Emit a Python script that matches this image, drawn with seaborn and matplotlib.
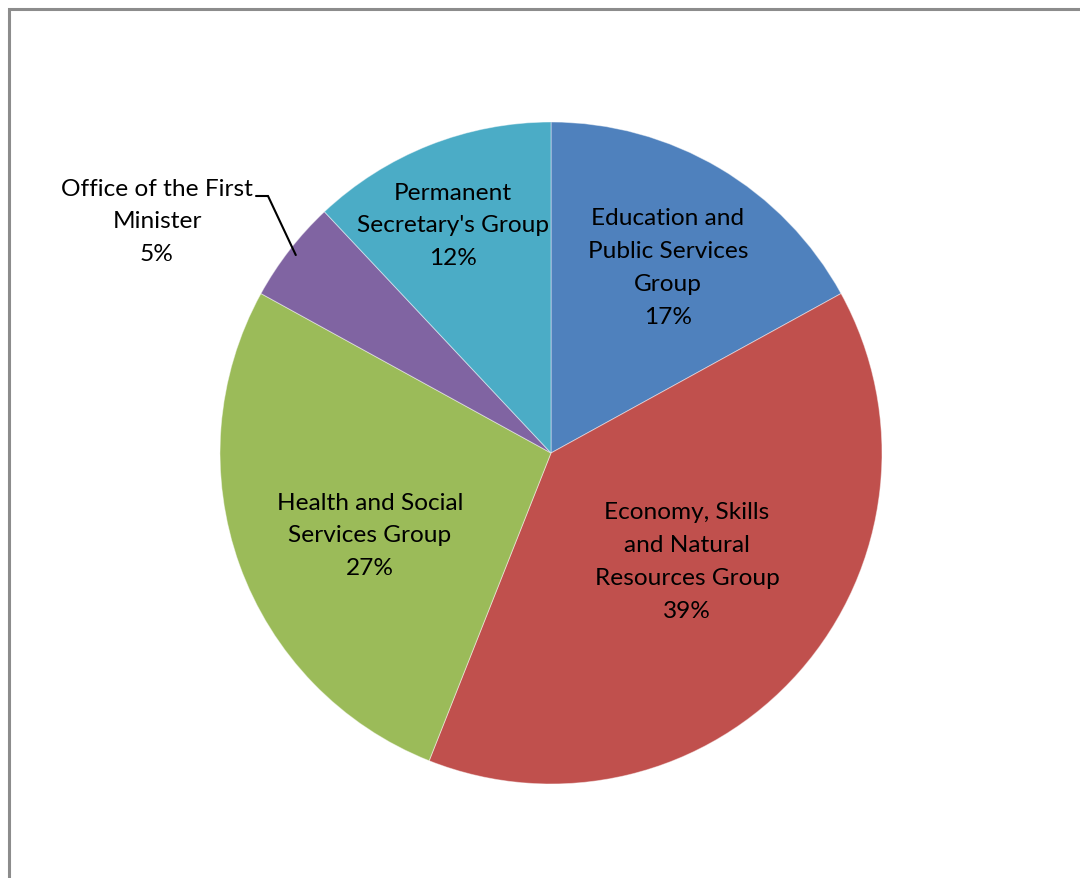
import matplotlib
matplotlib.use("Agg")
import matplotlib.pyplot as plt
from matplotlib.patches import Rectangle
import numpy as np
import seaborn as sns

# Share of staff by group (percent)
groups = [
    "Education and\nPublic Services\nGroup",
    "Economy, Skills\nand Natural\nResources Group",
    "Health and Social\nServices Group",
    "Office of the First\nMinister",
    "Permanent\nSecretary's Group",
]
shares = [17, 39, 27, 5, 12]
colors = ["#4F81BD", "#C0504D", "#9BBB59", "#8064A2", "#4BACC6"]

sns.set_theme(style="white")
plt.rcParams["font.family"] = ["Lato", "DejaVu Sans"]

W, H = 1080, 879
fig = plt.figure(figsize=(W / 100, H / 100), dpi=100)
fig.patch.set_facecolor("white")
ax = fig.add_axes([0, 0, 1, 1])

cx, cy, r = 551, H - 454, 331
wedges, _ = ax.pie(
    shares,
    colors=sns.color_palette(colors),
    startangle=90,
    counterclock=False,
    center=(cx, cy),
    radius=r,
    frame=True,
    wedgeprops=dict(edgecolor=(1, 1, 1, 0.45), linewidth=0.7),
)
ax.set_xlim(0, W)
ax.set_ylim(0, H)
ax.set_aspect("equal")
ax.axis("off")

# Label centres in pixels from the top-left corner
label_pos = [(668, 268), (687, 562), (370, 536), (157, 222), (453, 226)]
for name, val, (lx, ly) in zip(groups, shares, label_pos):
    ax.text(lx, H - ly, f"{name}\n{val}%", ha="center", va="center",
            fontsize=17.6, color="black", linespacing=1.7)

# Leader line for the small slice
w = wedges[3]
mid = np.deg2rad((w.theta1 + w.theta2) / 2)
ex = cx + (r - 8) * np.cos(mid)
ey = cy + (r - 8) * np.sin(mid)
ax.plot([256, 268, ex], [H - 197, H - 197, ey], color="black", lw=1.5,
        solid_joinstyle="miter")

# Chart area border (top and left edges visible)
fig.patches.append(Rectangle((8.5 / W, -0.2), 1.2, 1.2 - 9.5 / H,
                             transform=fig.transFigure, fill=False,
                             edgecolor="#8c8c8c", linewidth=2.2, zorder=10))

fig.savefig("out.png", dpi=100, facecolor="white")
